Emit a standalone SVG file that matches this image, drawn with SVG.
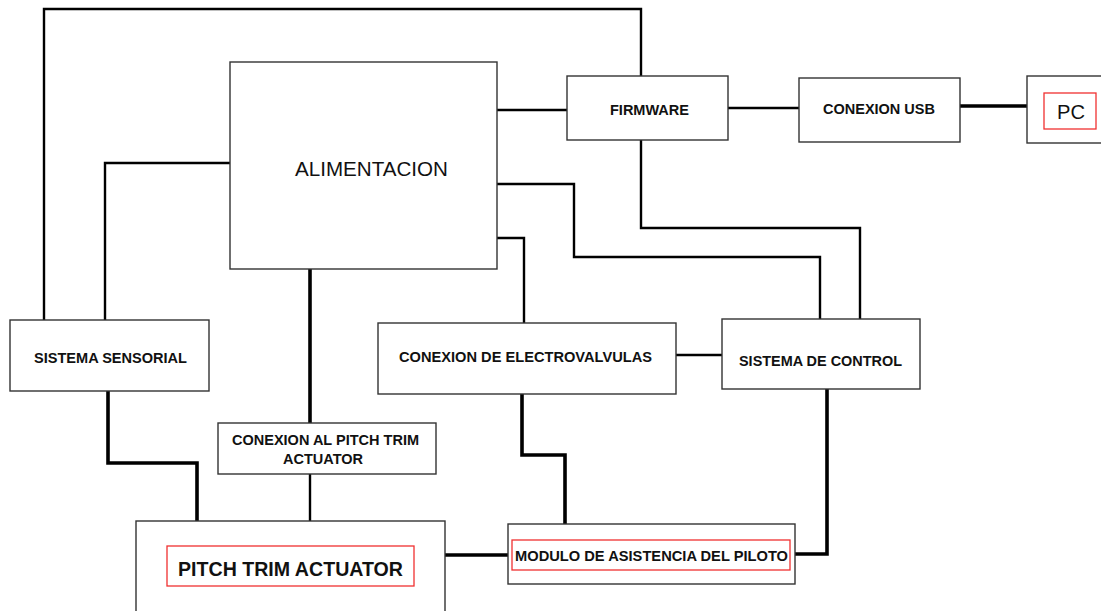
<svg xmlns="http://www.w3.org/2000/svg" width="1101" height="611" viewBox="0 0 1101 611">
<style>
.box{fill:#fff;stroke:#333;stroke-width:1.4}
.red{fill:none;stroke:#f03030;stroke-width:1.3}
.t{font-family:"Liberation Sans",Arial,sans-serif;font-weight:bold;font-size:15px;fill:#111}
.tl{font-family:"Liberation Sans",Arial,sans-serif;font-size:20px;fill:#111}
.c{fill:none;stroke:#000;stroke-width:2.4}
.k{fill:none;stroke:#000;stroke-width:3.6}
</style>
<rect width="1101" height="611" fill="#fff"/>
<g id="connectors">
<polyline class="c" points="44,321 44,9 641,9 641,77"/>
<polyline class="c" points="105,321 105,163 230,163"/>
<line class="c" x1="497" y1="110" x2="567" y2="110"/>
<line class="c" x1="728" y1="108" x2="799" y2="108"/>
<line class="k" x1="960" y1="106" x2="1027" y2="106"/>
<polyline class="c" points="641,140 641,228 860,228 860,320"/>
<polyline class="c" points="497,184 574,184 574,257 820,257 820,320"/>
<polyline class="c" points="497,238 524,238 524,323"/>
<line class="c" x1="676" y1="355" x2="722" y2="355"/>
<line class="k" x1="310" y1="269" x2="310" y2="423"/>
<line class="c" x1="310" y1="474" x2="310" y2="521"/>
<polyline class="k" points="108,391 108,463 197,463 197,521"/>
<polyline class="k" points="522,394 522,455 565,455 565,524"/>
<polyline class="k" points="827,389 827,554 795,554"/>
<line class="k" x1="445" y1="555" x2="508" y2="555"/>
</g>
<g id="alimentacion">
<rect class="box" x="230" y="62" width="267" height="207"/>
<text class="tl" x="295" y="176" textLength="153" lengthAdjust="spacingAndGlyphs">ALIMENTACION</text>
</g>
<g id="firmware">
<rect class="box" x="567" y="76" width="161" height="64"/>
<text class="t" x="610" y="115" textLength="79" lengthAdjust="spacingAndGlyphs">FIRMWARE</text>
</g>
<g id="usb">
<rect class="box" x="799" y="78" width="161" height="64"/>
<text class="t" x="823" y="114" textLength="112" lengthAdjust="spacingAndGlyphs">CONEXION USB</text>
</g>
<g id="pc">
<rect class="box" x="1027" y="76" width="80" height="67"/>
<rect class="red" x="1044" y="93" width="52" height="36"/>
<text class="tl" x="1057" y="119" textLength="28" lengthAdjust="spacingAndGlyphs">PC</text>
</g>
<g id="sensorial">
<rect class="box" x="10" y="320" width="199" height="71"/>
<text class="t" x="34" y="363" textLength="153" lengthAdjust="spacingAndGlyphs">SISTEMA SENSORIAL</text>
</g>
<g id="electrovalvulas">
<rect class="box" x="378" y="323" width="298" height="71"/>
<text class="t" x="399" y="362" textLength="253" lengthAdjust="spacingAndGlyphs">CONEXION DE ELECTROVALVULAS</text>
</g>
<g id="control">
<rect class="box" x="722" y="319" width="198" height="70"/>
<text class="t" x="739" y="366" textLength="163" lengthAdjust="spacingAndGlyphs">SISTEMA DE CONTROL</text>
</g>
<g id="conexion-pta">
<rect class="box" x="218" y="423" width="218" height="51"/>
<text class="t" x="232" y="445" textLength="187" lengthAdjust="spacingAndGlyphs">CONEXION AL PITCH TRIM</text>
<text class="t" x="283" y="464" textLength="80" lengthAdjust="spacingAndGlyphs">ACTUATOR</text>
</g>
<g id="pta">
<rect class="box" x="136" y="521" width="309" height="100"/>
<rect class="red" x="167" y="546" width="247" height="40"/>
<text class="tl" x="178" y="576" font-size="19" font-weight="bold" textLength="225" lengthAdjust="spacingAndGlyphs">PITCH TRIM ACTUATOR</text>
</g>
<g id="modulo">
<rect class="box" x="508" y="524" width="287" height="60"/>
<rect class="red" x="512" y="540" width="278" height="30"/>
<text class="t" x="515" y="561" textLength="273" lengthAdjust="spacingAndGlyphs">MODULO DE ASISTENCIA DEL PILOTO</text>
</g>
</svg>
